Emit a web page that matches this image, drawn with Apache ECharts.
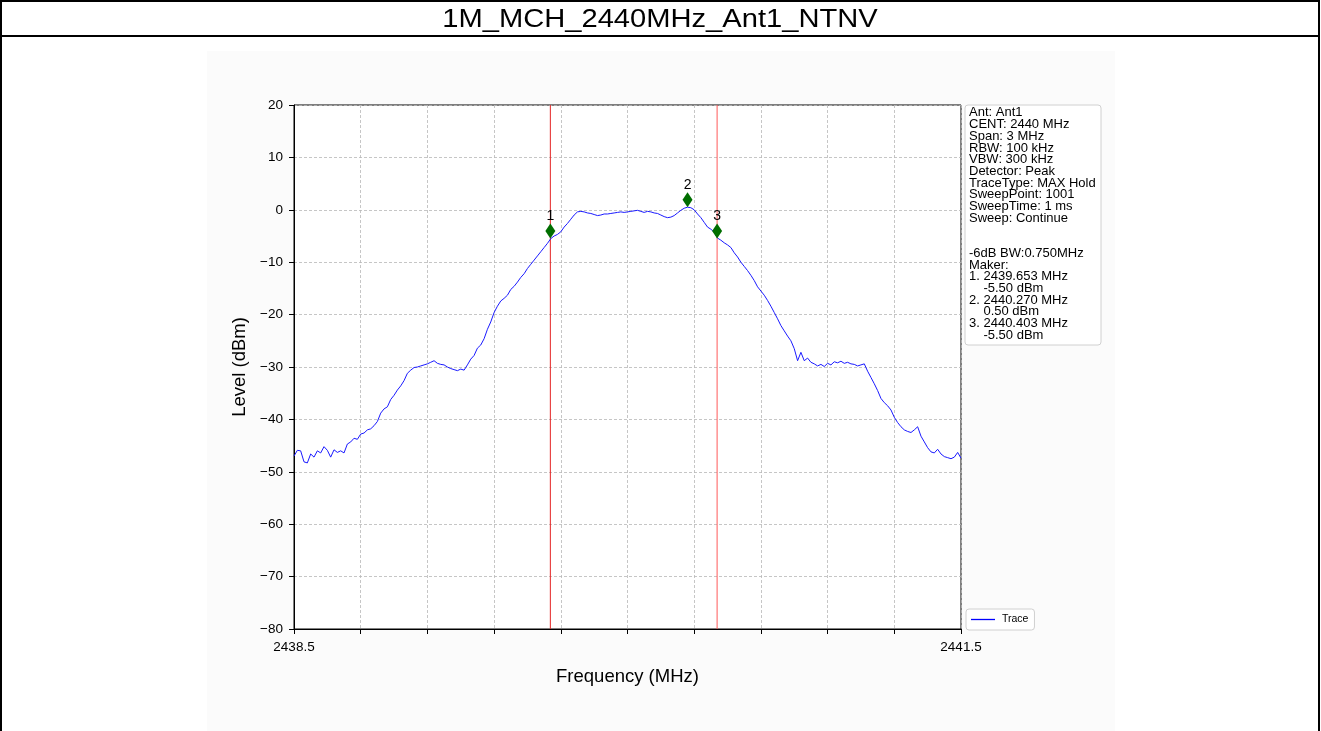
<!DOCTYPE html>
<html>
<head>
<meta charset="utf-8">
<title>1M_MCH_2440MHz_Ant1_NTNV</title>
<script src="https://cdn.jsdelivr.net/npm/echarts@6/dist/echarts.min.js"></script>
<style>
  html, body { margin: 0; padding: 0; background: #ffffff; }
  #chart { width: 1321px; height: 731px; }
</style>
</head>
<body>
<div id="chart"></div>
<script>
// Sweep settings
const startMHz = 2438.5;
const stopMHz = 2441.5;
const stepMHz = 0.015;

// Trace levels (dBm), one per sweep step from startMHz
const traceLevels = [
  -47.0, -45.9, -46.0, -48.1, -48.3, -46.6, -47.2, -46.0, -46.4, -45.2,
  -45.9, -47.2, -45.8, -46.3, -46.0, -46.4, -44.7, -44.3, -43.6, -43.8,
  -42.8, -42.6, -42.0, -41.8, -41.2, -40.4, -38.8, -38.0, -37.6, -36.2,
  -35.4, -34.4, -33.6, -32.6, -31.2, -30.6, -30.1, -30.0, -29.8, -29.6,
  -29.4, -29.1, -28.8, -29.3, -29.5, -29.6, -30.0, -30.3, -30.5, -30.7,
  -30.4, -30.6, -29.6, -28.5, -27.8, -26.4, -25.8, -24.6, -22.8, -21.4,
  -19.6, -18.4, -17.4, -16.9, -16.3, -15.2, -14.6, -13.8, -12.9, -12.2,
  -11.2, -10.4, -9.6, -8.8, -8.0, -7.2, -6.4, -5.5, -5.0, -4.7,
  -4.2, -3.3, -2.6, -1.8, -1.0, -0.4, -0.3, -0.4, -0.6, -0.7,
  -0.9, -1.1, -1.0, -0.8, -0.8, -0.7, -0.6, -0.5, -0.4, -0.5,
  -0.4, -0.3, -0.2, -0.1, -0.3, -0.5, -0.3, -0.4, -0.6, -0.7,
  -1.0, -1.3, -1.5, -1.4, -1.1, -0.6, -0.1, 0.3, 0.5, 0.4,
  0.0, -0.8, -1.5, -2.4, -3.3, -3.7, -4.3, -5.4, -5.8, -6.3,
  -6.7, -7.2, -8.2, -9.0, -10.0, -10.8, -11.6, -12.5, -13.5, -14.7,
  -15.5, -16.3, -17.3, -18.4, -19.6, -20.8, -22.1, -23.1, -24.1, -25.0,
  -26.5, -28.8, -27.2, -28.8, -28.3, -29.1, -29.4, -29.8, -29.5, -29.9,
  -29.3, -29.6, -29.0, -29.2, -28.9, -29.3, -29.1, -29.4, -29.5, -29.8,
  -29.6, -29.4, -30.8, -32.0, -33.2, -34.5, -36.0, -36.8, -37.4, -38.2,
  -39.6, -40.6, -41.4, -42.0, -42.3, -42.5, -42.0, -41.4, -43.2, -44.3,
  -45.4, -46.2, -46.4, -45.7, -46.6, -47.1, -47.3, -47.5, -47.2, -46.3,
  -47.4
];

// Markers
const markerNames = ['1', '2', '3'];
const markerFreqs = [2439.653, 2440.270, 2440.403];
const markerLevels = [-5.50, 0.50, -5.50];

// -6 dB bandwidth edges (markers 1 and 3)
const bwEdgeFreqs = [2439.653, 2440.403];

// Axis ticks
const yTicks = { min: -80, max: 20, interval: 10 };
const xInterval = 0.3;

// Info panel lines
const infoLines = [
  'Ant: Ant1',
  'CENT: 2440 MHz',
  'Span: 3 MHz',
  'RBW: 100 kHz',
  'VBW: 300 kHz',
  'Detector: Peak',
  'TraceType: MAX Hold',
  'SweepPoint: 1001',
  'SweepTime: 1 ms',
  'Sweep: Continue',
  '',
  '',
  '-6dB BW:0.750MHz',
  'Maker:',
  '1. 2439.653 MHz',
  '    -5.50 dBm',
  '2. 2440.270 MHz',
  '    0.50 dBm',
  '3. 2440.403 MHz',
  '    -5.50 dBm'
];

const FONT = "'Liberation Sans', Arial, Helvetica, sans-serif";

const traceData = traceLevels.map((v, i) => [startMHz + i * stepMHz, v]);
const markerData = markerNames.map((n, i) => ({ name: n, value: [markerFreqs[i], markerLevels[i]] }));
const edgeColors = ['#e42424', '#ff5a5a'];

const GRID = { left: 294, top: 105, width: 667, height: 524 };

const chart = echarts.init(document.getElementById('chart'), null, { renderer: 'canvas' });

const minusSign = s => String(s).replace('-', '\u2212');

const edgeSeries = bwEdgeFreqs.map((f, i) => ({
  name: 'edge' + (i + 1),
  type: 'line',
  data: [[f, yTicks.min], [f, yTicks.max]],
  showSymbol: false,
  symbol: 'none',
  silent: true,
  lineStyle: { color: edgeColors[i], width: 1 },
  z: 2
}));

chart.setOption({
  animation: false,
  backgroundColor: '#ffffff',
  graphic: [
    // figure area
    { type: 'rect', z: -10, silent: true,
      shape: { x: 207, y: 51, width: 908, height: 700 },
      style: { fill: '#fbfbfb' } },
    // page frame and title row
    { type: 'rect', z: 10, silent: true,
      shape: { x: 1, y: 1, width: 1318, height: 760 },
      style: { fill: 'none', stroke: '#000', lineWidth: 2 } },
    { type: 'line', z: 10, silent: true,
      shape: { x1: 1, y1: 36, x2: 1319, y2: 36 },
      style: { stroke: '#000', lineWidth: 2 } },
    { type: 'text', z: 10, silent: true, x: 660, y: 20, scaleX: 1.12,
      style: { text: '1M_MCH_2440MHz_Ant1_NTNV', font: '26px ' + FONT, fill: '#000',
               align: 'center', verticalAlign: 'middle' } },
    // info panel
    { type: 'rect', z: 5, silent: true,
      shape: { x: 965, y: 105, width: 136, height: 240, r: 3 },
      style: { fill: '#ffffff', stroke: '#d0d0d0', lineWidth: 1 } },
    { type: 'text', z: 6, silent: true, x: 969, y: 107,
      style: { text: infoLines.join('\n'), font: '13px ' + FONT, lineHeight: 11.7, fill: '#000' } }
  ],
  legend: {
    data: ['Trace'],
    left: 966, top: 609,
    orient: 'vertical',
    icon: 'path://M0,0 L24,0 L24,1.3 L0,1.3 Z',
    itemWidth: 24, itemHeight: 2, itemGap: 4,
    padding: [5, 6, 5, 5],
    borderColor: '#d0d0d0', borderWidth: 1, borderRadius: 3,
    backgroundColor: '#ffffff',
    textStyle: { fontFamily: FONT, fontSize: 10.5, color: '#000', padding: [0, 0, 0, 2] }
  },
  grid: Object.assign({ show: true, borderColor: '#000', borderWidth: 1, backgroundColor: '#ffffff' }, GRID),
  xAxis: {
    type: 'value',
    min: startMHz, max: stopMHz, interval: xInterval,
    name: 'Frequency (MHz)', nameLocation: 'middle', nameGap: 38,
    nameTextStyle: { fontFamily: FONT, fontSize: 18.5, color: '#000' },
    axisLine: { show: true, onZero: false, lineStyle: { color: '#000', width: 1 } },
    axisTick: { show: true, inside: false, length: 5, lineStyle: { color: '#000' } },
    axisLabel: {
      fontFamily: FONT, fontSize: 13.5, color: '#000', margin: 11,
      showMinLabel: true, showMaxLabel: true,
      formatter: v => (Math.abs(v - startMHz) < 1e-6 || Math.abs(v - stopMHz) < 1e-6) ? v.toFixed(1) : ''
    },
    splitLine: { show: true, lineStyle: { color: '#b8b8b8', type: [3, 2], width: 0.8 } }
  },
  yAxis: {
    type: 'value',
    min: yTicks.min, max: yTicks.max, interval: yTicks.interval,
    name: 'Level (dBm)', nameLocation: 'middle', nameGap: 44,
    nameTextStyle: { fontFamily: FONT, fontSize: 18.5, color: '#000' },
    axisLine: { show: true, onZero: false, lineStyle: { color: '#000', width: 1 } },
    axisTick: { show: true, inside: false, length: 5, lineStyle: { color: '#000' } },
    axisLabel: { fontFamily: FONT, fontSize: 13.5, color: '#000', margin: 11, formatter: v => minusSign(v) },
    splitLine: { show: true, lineStyle: { color: '#b8b8b8', type: [3, 2], width: 0.8 } }
  },
  series: [
    {
      name: 'Trace',
      type: 'line',
      data: traceData,
      showSymbol: false,
      symbol: 'none',
      lineStyle: { color: '#1a1aff', width: 1 },
      itemStyle: { color: '#0000ff' },
      z: 3
    },
    ...edgeSeries,
    {
      name: 'Markers',
      type: 'scatter',
      data: markerData,
      symbol: 'diamond',
      symbolSize: [10, 15],
      symbolOffset: [0, -7.5],
      itemStyle: { color: '#006e00', opacity: 1 },
      z: 4,
      label: {
        show: true,
        position: 'top',
        distance: 0,
        formatter: p => p.name,
        fontFamily: FONT, fontSize: 14, color: '#000'
      }
    }
  ]
});
</script>
</body>
</html>
